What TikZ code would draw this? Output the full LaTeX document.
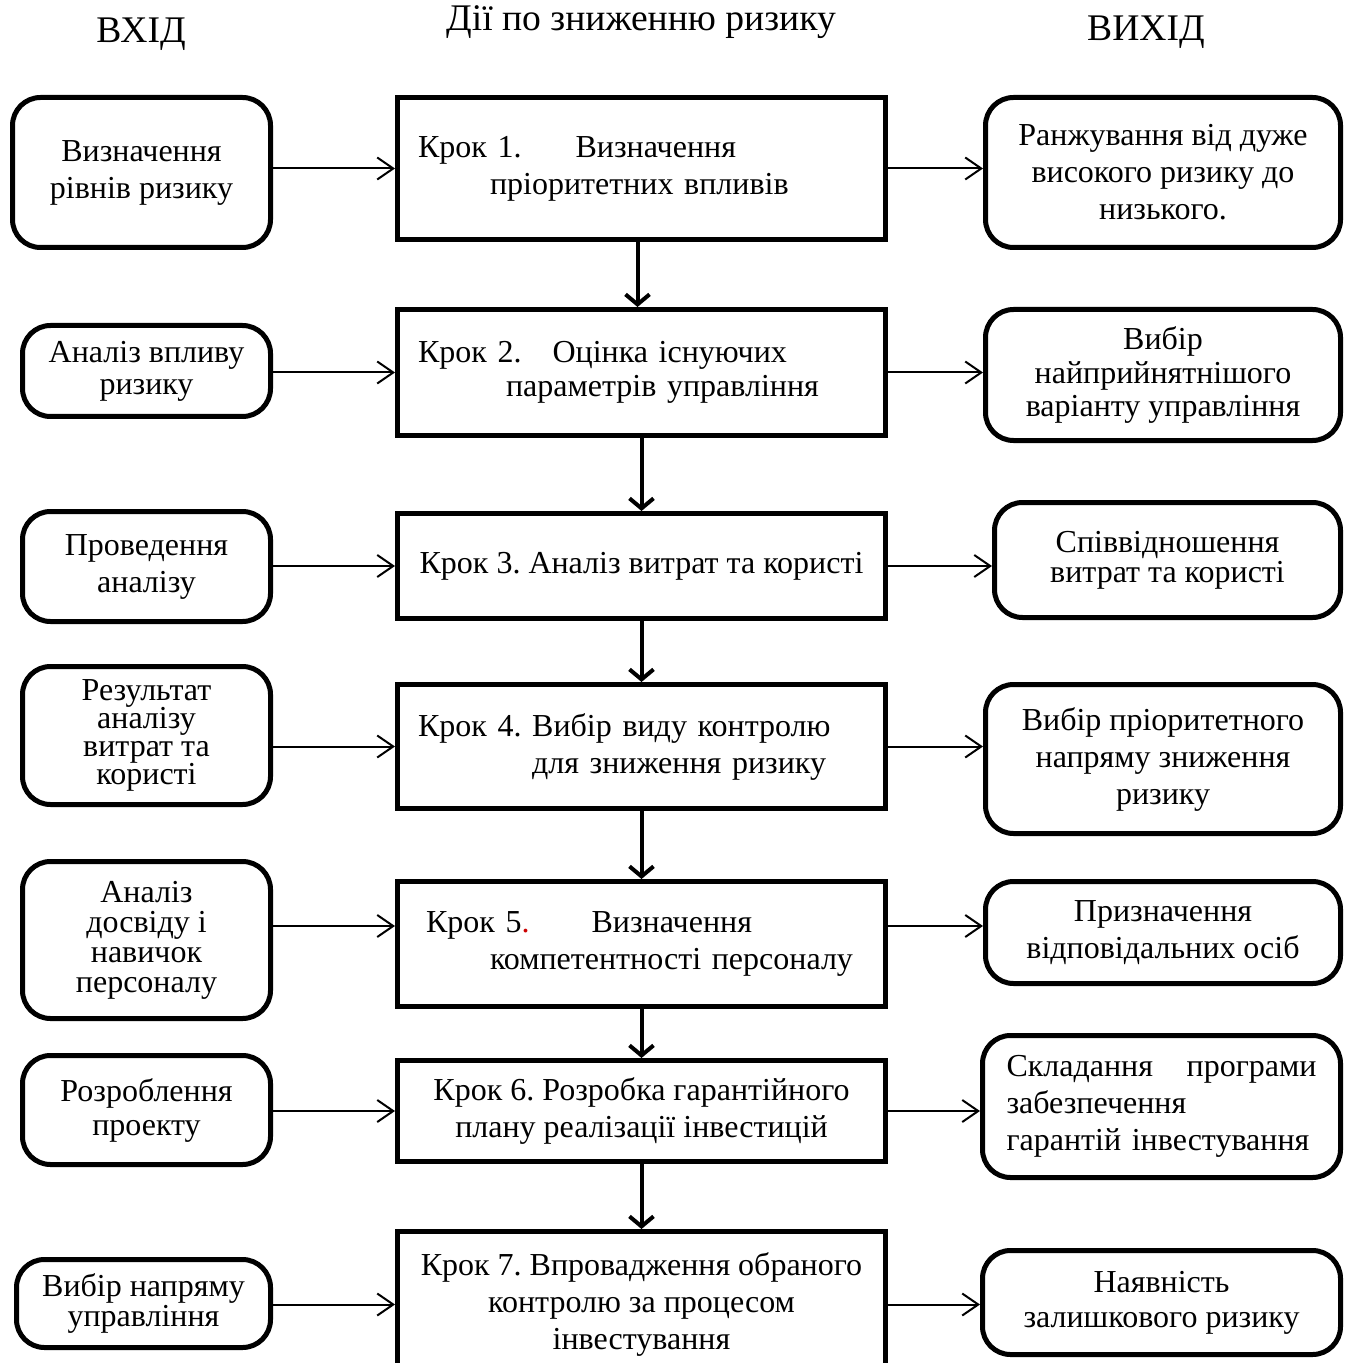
\documentclass[tikz,border=0pt]{standalone}
\usepackage{fontspec}
\setmainfont{Liberation Serif}
\usepackage{tikz}
\usetikzlibrary{arrows.meta, positioning, calc}

\definecolor{dotred}{RGB}{204, 0, 0}
\newcommand{\boxlines}[1]{\fontsize{16}{#1}\selectfont\lineskiplimit=-20pt\relax\frenchspacing}

\begin{document}
\begin{tikzpicture}[x=0.5pt, y=-0.5pt,
    font=\boxlines{18.5},
    headtext/.style={font=\fontsize{18.8}{21}\selectfont},
    inbox/.style={draw, line width=2.5pt, rounded corners=14pt, align=center, inner sep=0pt},
    stepbox/.style={draw, line width=2.5pt, inner sep=0pt, minimum width=244pt},
    outbox/.style={draw, line width=2.5pt, rounded corners=14pt, align=center, inner sep=0pt},
    sidearrow/.style={line width=1pt, -{Straight Barb[length=8pt, width=11pt]}},
    downarrow/.style={line width=2pt, -{Straight Barb[length=5pt, width=12pt]}}]
  \useasboundingbox (0,0) rectangle (1352,1363);

  % Headers
  \node[headtext] (hin) at (141, 34) {ВХІД};
  \node[headtext] (hstep) at (641, 22) {Дії по зниженню ризику};
  \node[headtext] (hout) at (1146, 32) {ВИХІД};

  % Inputs
  \node[inbox, minimum width=129pt, minimum height=75pt] (in1) at (141.5, 172.5) {Визначення\\рівнів ризику};
  \node[inbox, minimum width=124pt, minimum height=45.5pt, font=\boxlines{16}] (in2) at (146.5, 371) {Аналіз впливу\\ризику};
  \node[inbox, minimum width=124pt, minimum height=55pt] (in3) at (146.5, 566.5) {Проведення\\аналізу};
  \node[inbox, minimum width=124pt, minimum height=69pt, font=\boxlines{14}] (in4) at (146.5, 735.5) {Результат\\аналізу\\витрат та\\користі};
  \node[inbox, minimum width=124pt, minimum height=78.5pt, font=\boxlines{15}] (in5) at (146.5, 940) {Аналіз\\досвіду і\\навичок\\персоналу};
  \node[inbox, minimum width=124pt, minimum height=54.5pt, font=\boxlines{17}] (in6) at (146.5, 1110) {Розроблення\\проекту};
  \node[inbox, minimum width=127pt, minimum height=44pt, font=\boxlines{15}] (in7) at (143.5, 1303.5) {Вибір напряму\\управління};

  % Steps
  \node[stepbox, minimum height=71pt, text width=223.5pt, align=left] (st1) at (641.5, 168.5)
    {Крок 1.\hspace*{27pt}Визначення\\\hspace*{36pt}пріоритетних впливів};
  \node[stepbox, minimum height=63pt, text width=223.5pt, align=left, font=\boxlines{17}] (st2) at (641.5, 372.5)
    {Крок 2.\hspace*{15.5pt}Оцінка існуючих\\\hspace*{44pt}параметрів управління};
  \node[stepbox, minimum height=52.5pt, align=center] (st3) at (641.5, 566) {Крок 3. Аналіз витрат та користі};
  \node[stepbox, minimum height=62pt, text width=223.5pt, align=left] (st4) at (641.5, 746.5)
    {Крок 4. Вибір виду контролю\\\hspace*{57pt}для зниження ризику};
  \node[stepbox, minimum height=62.5pt, text width=223.5pt, align=left] (st5) at (641.5, 944)
    {\hspace*{4pt}Крок 5\textcolor{dotred}{.}\hspace*{31pt}Визначення\\\hspace*{36pt}компетентності персоналу};
  \node[stepbox, minimum height=50.5pt, align=center] (st6) at (641.5, 1111)
    {Крок 6. Розробка гарантійного\\плану реалізації інвестицій};
  \node[stepbox, minimum height=73pt, align=center] (st7) at (641.5, 1304.5)
    {Крок 7. Впровадження обраного\\контролю за процесом\\інвестування};

  % Outputs
  \node[outbox, minimum width=177.5pt, minimum height=75pt] (out1) at (1163, 172.5) {Ранжування від дуже\\високого ризику до\\низького.};
  \node[outbox, minimum width=177.5pt, minimum height=65.5pt, font=\boxlines{16.5}] (out2) at (1163, 375) {Вибір\\найприйнятнішого\\варіанту управління};
  \node[outbox, minimum width=173pt, minimum height=57.5pt, font=\boxlines{15}] (out3) at (1167.5, 560) {Співвідношення\\витрат та користі};
  \node[outbox, minimum width=177.5pt, minimum height=74.5pt] (out4) at (1163, 759) {Вибір пріоритетного\\напряму зниження\\ризику};
  \node[outbox, minimum width=177.5pt, minimum height=51pt] (out5) at (1163, 932.5) {Призначення\\відповідальних осіб};
  \node[outbox, minimum width=179pt, minimum height=71pt, text width=155pt, align=left] (out6) at (1161.5, 1106.5)
    {Складання\hfill програми\\забезпечення\\гарантій інвестування};
  \node[outbox, minimum width=179pt, minimum height=52pt, font=\boxlines{17.5}] (out7) at (1161.5, 1302.5) {Наявність\\залишкового ризику};

  % Inputs to steps
  \foreach \i in {1,2,3,4,6,7}
    \draw[sidearrow] (in\i.east |- st\i.west) -- (st\i.west);
  \draw[sidearrow] ([yshift=9pt]in5.east |- st5.west) -- ([yshift=9pt]st5.west);

  % Steps to outputs
  \foreach \i in {1,2,3,4,6,7}
    \draw[sidearrow] (st\i.east) -- (out\i.west |- st\i.east);
  \draw[sidearrow] ([yshift=9pt]st5.east) -- ([yshift=9pt]out5.west |- st5.east);

  % Steps down
  \draw[downarrow] ([xshift=-2pt]st1.south) -- ([xshift=-2pt]st2.north);
  \foreach \i/\j in {2/3, 3/4, 4/5, 5/6, 6/7}
    \draw[downarrow] (st\i.south) -- (st\j.north);
\end{tikzpicture}
\end{document}
